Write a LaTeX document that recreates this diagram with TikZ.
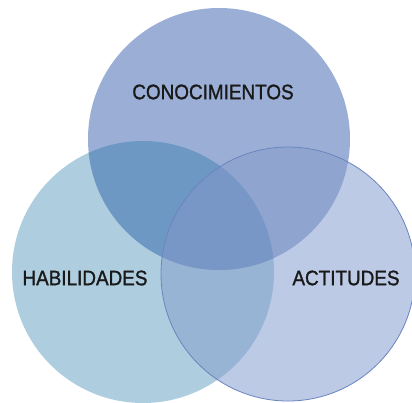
\documentclass[tikz,border=0pt]{standalone}
\usepackage{fontspec}
\newfontfamily\vennfont[FakeStretch=0.9, FakeBold=1.2]{Liberation Sans}
\definecolor{topblue}{HTML}{9BAED6}
\definecolor{leftblue}{HTML}{AECEDF}
\definecolor{rightblue}{HTML}{BCCAE6}
\definecolor{topleft}{HTML}{6E98C4}
\definecolor{topright}{HTML}{8FA5D0}
\definecolor{leftright}{HTML}{98B4D4}
\definecolor{middle}{HTML}{7897C6}
\definecolor{rimblue}{HTML}{6A84C0}

\begin{document}
\begin{tikzpicture}[x=1pt, y=-1pt, label/.style={font=\vennfont\fontsize{21}{21}\selectfont, text=black!90}]
\clip (0,0) rectangle (412,402);
\fill[white] (0,0) rectangle (412,402);
\coordinate (ctop) at (219,139);
\coordinate (cleft) at (143,272);
\coordinate (cright) at (288,274);
% the three sets
\fill[leftblue] (cleft) circle [radius=131];
\fill[topblue] (ctop) circle [radius=131];
\fill[rightblue] (cright) circle [radius=127];
% two at a time
\begin{scope}
\clip (cleft) circle [radius=131];
\fill[topleft] (ctop) circle [radius=131];
\fill[leftright] (cright) circle [radius=127];
\end{scope}
\begin{scope}
\clip (ctop) circle [radius=131];
\fill[topright] (cright) circle [radius=127];
\end{scope}
% all three
\begin{scope}
\clip (cleft) circle [radius=131];
\clip (ctop) circle [radius=131];
\fill[middle] (cright) circle [radius=127];
\end{scope}
\draw[rimblue, line width=0.8pt] (cright) circle [radius=127];
\node[label] (know) at (213,92) {CONOCIMIENTOS};
\node[label] (skill) at (85,278) {HABILIDADES};
\node[label] (attitude) at (346,278) {ACTITUDES};
\end{tikzpicture}
\end{document}
